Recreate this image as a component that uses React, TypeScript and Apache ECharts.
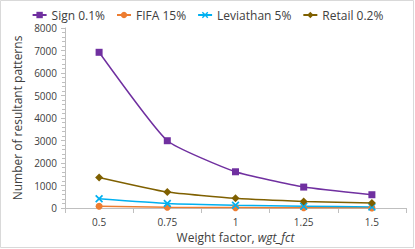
import React, { useEffect, useRef } from "react";
import * as echarts from "echarts";

const categories = ["0.5", "0.75", "1", "1.25", "1.5"];
const signValues = [6920, 2990, 1610, 930, 590];
const fifaValues = [75, 35, 18, 10, 6];
const leviathanValues = [410, 200, 120, 80, 50];
const retailValues = [1360, 710, 430, 290, 220];
const seriesNames = ["Sign 0.1%", "FIFA 15%", "Leviathan 5%", "Retail 0.2%"];

const FONT = "Open Sans";
const X_SYMBOL =
  "path://M0,1.5L1.5,0L5,3.5L8.5,0L10,1.5L6.5,5L10,8.5L8.5,10L5,6.5L1.5,10L0,8.5L3.5,5Z";

export default function App() {
  const ref = useRef<HTMLDivElement>(null);
  useEffect(() => {
    if (!ref.current) return;
    const chart = echarts.init(ref.current, null, { renderer: "svg" });
    const mk = (name: string, data: number[], color: string, symbol: string, size: number) => ({
      name,
      type: "line",
      data,
      symbol,
      symbolSize: size,
      smooth: 0.15,
      lineStyle: { color, width: 1.5 },
      itemStyle: { color },
    });
    chart.setOption({
      animation: false,
      backgroundColor: "#ffffff",
      textStyle: { fontFamily: FONT },
      graphic: [
        {
          type: "rect",
          shape: { x: 0.5, y: 0.5, width: 413, height: 247 },
          style: { fill: "none", stroke: "#D9D9D9", lineWidth: 1 },
          silent: true,
        },
      ],
      legend: {
        top: 4,
        left: "center",
        itemWidth: 14,
        itemHeight: 8,
        itemGap: 11,
        textStyle: { fontFamily: FONT, fontSize: 12, color: "#404040" },
        data: seriesNames,
      },
      grid: { left: 65, right: 9, top: 28, bottom: 41 },
      xAxis: {
        type: "category",
        data: categories,
        boundaryGap: true,
        name: "{n|Weight factor, }{i|wgt_fct}",
        nameLocation: "middle",
        nameGap: 23,
        nameTextStyle: {
          rich: {
            n: { fontFamily: FONT, fontSize: 12, color: "#404040" },
            i: { fontFamily: FONT, fontSize: 12, color: "#404040", fontStyle: "italic" },
          },
        },
        axisLine: { lineStyle: { color: "#BFBFBF" } },
        axisTick: { show: true, length: 5, lineStyle: { color: "#BFBFBF" } },
        axisLabel: { fontFamily: FONT, fontSize: 10, color: "#404040", margin: 9 },
      },
      yAxis: {
        type: "value",
        min: 0,
        max: 8000,
        interval: 1000,
        name: "Number of resultant patterns",
        nameLocation: "middle",
        nameGap: 38,
        nameTextStyle: { fontFamily: FONT, fontSize: 12, color: "#404040" },
        axisLine: { show: true, lineStyle: { color: "#BFBFBF" } },
        axisTick: { show: true, inside: false, length: 4, lineStyle: { color: "#BFBFBF" } },
        minorTick: { show: true, splitNumber: 5, length: 3, lineStyle: { color: "#BFBFBF" } },
        splitLine: { show: false },
        axisLabel: {
          fontFamily: FONT,
          fontSize: 10,
          color: "#404040",
          margin: 8,
          formatter: (v: number) => String(v),
        },
      },
      series: [
        mk(seriesNames[0], signValues, "#7030A0", "rect", 7),
        mk(seriesNames[1], fifaValues, "#ED7D31", "circle", 7),
        mk(seriesNames[2], leviathanValues, "#00B0F0", X_SYMBOL, 8),
        mk(seriesNames[3], retailValues, "#7F6000", "diamond", 8),
      ],
    });
    return () => chart.dispose();
  }, []);
  return (
    <div
      ref={ref}
      style={{ position: "fixed", left: 0, top: 0, width: 415, height: 249 }}
    />
  );
}
